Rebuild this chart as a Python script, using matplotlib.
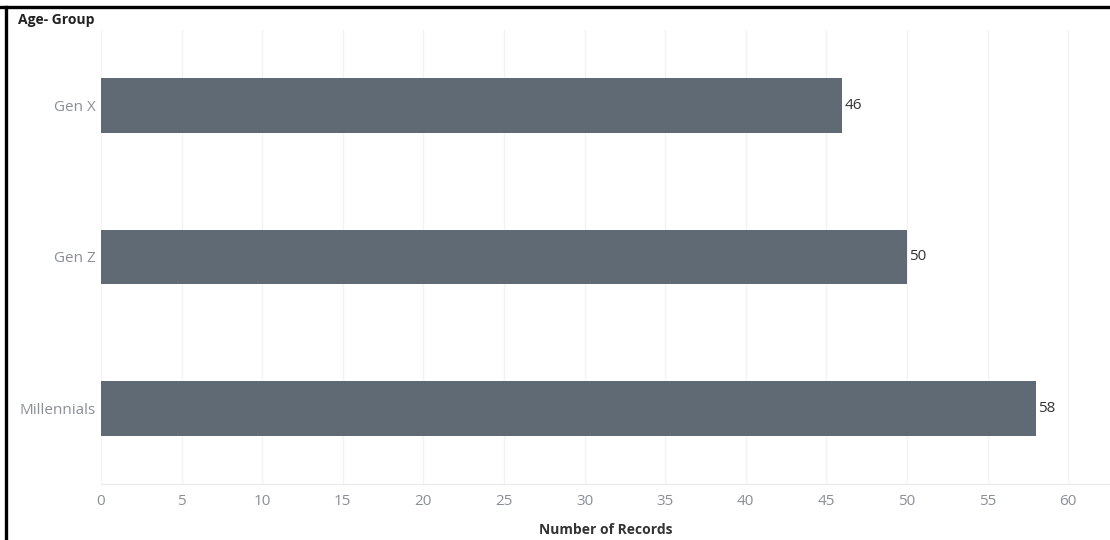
import matplotlib
matplotlib.use("Agg")
import matplotlib.pyplot as plt
from matplotlib.lines import Line2D

categories = ["Gen X", "Gen Z", "Millennials"]
values = [46, 50, 58]
xticks = [0, 5, 10, 15, 20, 25, 30, 35, 40, 45, 50, 55, 60]

plt.rcParams['font.family'] = ['Open Sans', 'DejaVu Sans']

W, H = 1110, 540
fig = plt.figure(figsize=(W / 100, H / 100), dpi=100)
ax = fig.add_axes([101 / W, 1 - 484 / H, (1110 - 101) / W, (484 - 30) / H])

ypos = list(range(len(categories)))
ax.barh(ypos, values, height=0.363, color="#5f6a74", zorder=3)
for y, v in zip(ypos, values):
    ax.text(v + 0.15, y, str(v), va="center", ha="left", fontsize=11, color="#333333", zorder=4)

ax.set_ylim(2.5, -0.5)
ax.set_xlim(0, 62.6)
ax.set_yticks(ypos)
ax.set_yticklabels(categories, fontsize=11, color="#8a8f96")
ax.set_xticks(xticks)
ax.set_xticklabels([str(t) for t in xticks], fontsize=11, color="#8a8f96")
ax.tick_params(axis="y", length=0, pad=4)
ax.tick_params(axis="x", length=0, pad=7)
ax.grid(axis="x", color="#f3f3f3", linewidth=1, zorder=0)
for s in ["top", "right", "left"]:
    ax.spines[s].set_visible(False)
ax.spines["bottom"].set_color("#ececec")
ax.spines["bottom"].set_linewidth(1)

ax.set_xlabel("Number of Records", fontsize=10, fontweight="bold", color="#333333", labelpad=10)

fig.text(18 / W, 1 - 20 / H, "Age- Group", fontsize=10, fontweight="bold", color="#222222", va="center", ha="left")

# frame lines (top and left)
fig.add_artist(Line2D([0, 1], [1 - 7 / H, 1 - 7 / H], transform=fig.transFigure, color="black", linewidth=2.4))
fig.add_artist(Line2D([6 / W, 6 / W], [0, 1 - 7 / H], transform=fig.transFigure, color="black", linewidth=2.4))

fig.savefig("out.png", dpi=100)
